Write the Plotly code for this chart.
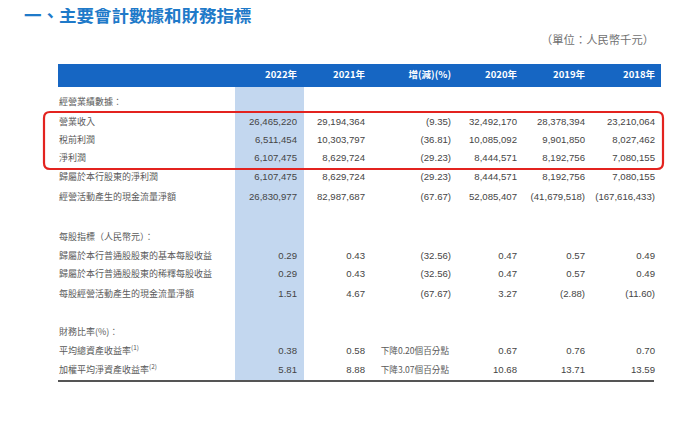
import plotly.graph_objects as go

# ---------------- data ----------------
title_text = "一、主要會計數據和財務指標"
unit_text = "（單位：人民幣千元）"
headers = ["2022年", "2021年", "增(減)(%)", "2020年", "2019年", "2018年"]

row_labels = [
    "經營業績數據：",
    "營業收入",
    "稅前利潤",
    "淨利潤",
    "歸屬於本行股東的淨利潤",
    "經營活動產生的現金流量淨額",
    "每股指標（人民幣元）：",
    "歸屬於本行普通股股東的基本每股收益",
    "歸屬於本行普通股股東的稀釋每股收益",
    "每股經營活動產生的現金流量淨額",
    "財務比率(%)：",
    "平均總資產收益率<sup>(1)</sup>",
    "加權平均淨資產收益率<sup>(2)</sup>",
]

v2022 = [None, 26465220, 6511454, 6107475, 6107475, 26830977,
         None, 0.29, 0.29, 1.51, None, 0.38, 5.81]
v2021 = [None, 29194364, 10303797, 8629724, 8629724, 82987687,
         None, 0.43, 0.43, 4.67, None, 0.58, 8.88]
vchg = [None, -9.35, -36.81, -29.23, -29.23, -67.67,
        None, -32.56, -32.56, -67.67, None, "下降0.20個百分點", "下降3.07個百分點"]
v2020 = [None, 32492170, 10085092, 8444571, 8444571, 52085407,
         None, 0.47, 0.47, 3.27, None, 0.67, 10.68]
v2019 = [None, 28378394, 9901850, 8192756, 8192756, -41679518,
         None, 0.57, 0.57, -2.88, None, 0.76, 13.71]
v2018 = [None, 23210064, 8027462, 7080155, 7080155, -167616433,
         None, 0.49, 0.49, -11.60, None, 0.70, 13.59]

# ---------------- layout positions (window pixels) ----------------
row_y = [103, 123, 141, 159, 178, 198, 238, 257, 275, 295, 333, 352, 371]
col_right = [297, 365, 451, 517, 585, 655]
label_x = 59
OFF = 8  # page body margin


def fmt(v):
    if v is None or isinstance(v, str):
        return ""
    if isinstance(v, int):
        s = f"{abs(v):,}"
    else:
        s = f"{abs(v):.2f}"
    return f"({s})" if v < 0 else s


CJK = "Noto Sans CJK TC, Noto Sans, sans-serif"
NUM = "Liberation Sans, Arial, sans-serif"
TXT = "#5a5a5a"
NUMC = "#454545"

fig = go.Figure()

# highlighted 2022 column
fig.add_shape(type="rect", x0=235, x1=304, y0=87, y1=381,
              fillcolor="#c3d7ef", line_width=0, layer="below")
# header bar
fig.add_shape(type="rect", x0=58, x1=661, y0=64, y1=87,
              fillcolor="#1666c3", line_width=0, layer="below")
# bottom rule
fig.add_shape(type="line", x0=58, x1=654, y0=381, y1=381,
              line=dict(color="#555555", width=2))
# red rounded highlight box
x0, x1, y0, y1, r = 44, 663, 112, 169, 6
path = (f"M {x0+r},{y0} L {x1-r},{y0} Q {x1},{y0} {x1},{y0+r} "
        f"L {x1},{y1-r} Q {x1},{y1} {x1-r},{y1} L {x0+r},{y1} "
        f"Q {x0},{y1} {x0},{y1-r} L {x0},{y0+r} Q {x0},{y0} {x0+r},{y0} Z")
fig.add_shape(type="path", path=path, line=dict(color="#e3231f", width=2.2))

# row labels
fig.add_trace(go.Scatter(
    x=[label_x] * len(row_labels), y=row_y, text=row_labels, mode="text",
    textposition="middle right",
    textfont=dict(family=CJK, size=9, color=TXT), hoverinfo="skip"))

# header texts
fig.add_trace(go.Scatter(
    x=col_right, y=[75.5] * len(headers), text=[f"<b>{h}</b>" for h in headers],
    mode="text", textposition="middle left",
    textfont=dict(family=CJK, size=9.5, color="white"), hoverinfo="skip"))

# value columns (numbers)
for vals, cx in zip([v2022, v2021, vchg, v2020, v2019, v2018], col_right):
    fig.add_trace(go.Scatter(
        x=[cx] * len(vals), y=row_y, text=[fmt(v) for v in vals], mode="text",
        textposition="middle left",
        textfont=dict(family=NUM, size=9.6, color=NUMC), hoverinfo="skip"))

# textual change entries
str_y = [y for y, v in zip(row_y, vchg) if isinstance(v, str)]
str_t = [v for v in vchg if isinstance(v, str)]
fig.add_trace(go.Scatter(
    x=[449] * len(str_t), y=str_y, text=str_t, mode="text",
    textposition="middle left",
    textfont=dict(family=CJK, size=8.6, color=TXT), hoverinfo="skip"))

# title and unit
fig.add_annotation(x=22, y=14.5, text=f"<b>{title_text}</b>", showarrow=False,
                   xanchor="left", yanchor="middle",
                   font=dict(family=CJK, size=17.5, color="#1f7ac9"))
fig.add_annotation(x=656, y=39, text=unit_text, showarrow=False,
                   xanchor="right", yanchor="middle",
                   font=dict(family=CJK, size=11.3, color="#707070"))

fig.update_layout(
    width=700 - OFF, height=423 - OFF, margin=dict(l=0, r=0, t=0, b=0),
    paper_bgcolor="white", plot_bgcolor="white", showlegend=False,
    xaxis=dict(range=[OFF, 700], visible=False, fixedrange=True),
    yaxis=dict(range=[423, OFF], visible=False, fixedrange=True),
)

fig.write_html("out.html")
